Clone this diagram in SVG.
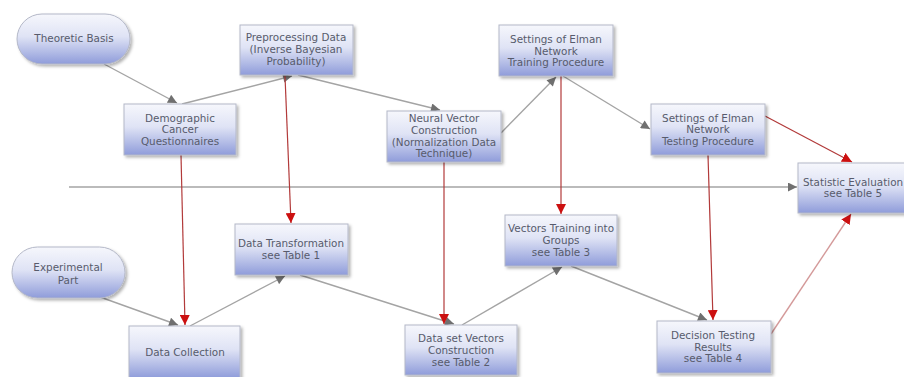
<svg xmlns="http://www.w3.org/2000/svg" width="904" height="377" viewBox="0 0 904 377">
<style>
.box{fill:url(#g);stroke:#b4b8c8;stroke-width:1;filter:url(#sh)}
.t{font-family:"DejaVu Sans",Verdana,sans-serif;font-size:10.4px;fill:#575b6c;text-anchor:middle}
.gl{stroke:#a4a4a4;stroke-width:1.4;fill:none;marker-end:url(#ag)}
.rl{stroke:#b23a3a;stroke-width:1.2;fill:none;marker-end:url(#ar)}
.pl{stroke:#d49a9a;stroke-width:1.4;fill:none;marker-end:url(#ar)}
</style>
<defs>
<linearGradient id="g" x1="0" y1="0" x2="0" y2="1">
<stop offset="0" stop-color="#f6f7fc"/>
<stop offset="0.45" stop-color="#dfe3f5"/>
<stop offset="1" stop-color="#8f9cda"/>
</linearGradient>
<filter id="sh" x="-10%" y="-10%" width="130%" height="140%">
<feDropShadow dx="2" dy="2" stdDeviation="1.5" flood-color="#000" flood-opacity="0.3"/>
</filter>
<marker id="ag" viewBox="0 0 10 10" refX="10" refY="5" markerWidth="10" markerHeight="9" markerUnits="userSpaceOnUse" orient="auto">
<path d="M0,0 L10,5 L0,10 z" fill="#707070"/>
</marker>
<marker id="ar" viewBox="0 0 10 10" refX="10" refY="5" markerWidth="10" markerHeight="10" markerUnits="userSpaceOnUse" orient="auto">
<path d="M0,0 L10,5 L0,10 z" fill="#cc1010"/>
</marker>
</defs>
<rect width="904" height="377" fill="#ffffff"/>
<g id="connectors">
<line class="gl" x1="69" y1="187" x2="797" y2="187"/>
<line class="gl" x1="104" y1="64" x2="177" y2="103"/>
<line class="gl" x1="182" y1="104" x2="292" y2="76"/>
<line class="gl" x1="298" y1="75" x2="440" y2="110"/>
<line class="gl" x1="501" y1="133" x2="556" y2="77"/>
<line class="gl" x1="563" y1="76" x2="650" y2="129"/>
<line class="rl" x1="765" y1="116" x2="852" y2="162"/>
<line class="rl" x1="181" y1="155" x2="185" y2="325"/>
<line class="rl" x1="285" y1="76" x2="291" y2="223"/>
<line class="gl" x1="100" y1="297" x2="178" y2="325"/>
<line class="gl" x1="190" y1="326" x2="285" y2="276"/>
<line class="gl" x1="300" y1="275" x2="454" y2="324"/>
<line class="rl" x1="444" y1="162" x2="444" y2="324"/>
<line class="gl" x1="462" y1="325" x2="562" y2="267"/>
<line class="rl" x1="561" y1="76" x2="561" y2="214"/>
<line class="gl" x1="571" y1="266" x2="707" y2="320"/>
<line class="rl" x1="708" y1="155" x2="713" y2="320"/>
<line class="pl" x1="771" y1="334" x2="851" y2="214"/>
</g>
<g id="theoretic">
<rect class="box" x="17" y="14" width="113" height="50" rx="25"/>
<text class="t" x="74" y="42">Theoretic Basis</text>
</g>
<g id="preprocessing">
<rect class="box" x="240" y="25" width="113" height="50"/>
<text class="t" x="296" y="41">Preprocessing Data</text>
<text class="t" x="296" y="53">(Inverse Bayesian</text>
<text class="t" x="296" y="65">Probability)</text>
</g>
<g id="demographic">
<rect class="box" x="124" y="104" width="112" height="51"/>
<text class="t" x="180" y="122">Demographic</text>
<text class="t" x="180" y="133">Cancer</text>
<text class="t" x="180" y="145">Questionnaires</text>
</g>
<g id="neural">
<rect class="box" x="387" y="111" width="114" height="51"/>
<text class="t" x="444" y="122">Neural Vector</text>
<text class="t" x="444" y="134">Construction</text>
<text class="t" x="444" y="146">(Normalization Data</text>
<text class="t" x="444" y="157">Technique)</text>
</g>
<g id="training">
<rect class="box" x="499" y="25" width="114" height="51"/>
<text class="t" x="556" y="43">Settings of Elman</text>
<text class="t" x="556" y="55">Network</text>
<text class="t" x="556" y="66">Training Procedure</text>
</g>
<g id="testing">
<rect class="box" x="651" y="104" width="114" height="51"/>
<text class="t" x="708" y="122">Settings of Elman</text>
<text class="t" x="708" y="133">Network</text>
<text class="t" x="708" y="145">Testing Procedure</text>
</g>
<g id="statistic">
<rect class="box" x="798" y="163" width="108" height="50"/>
<text class="t" x="853" y="186">Statistic Evaluation</text>
<text class="t" x="853" y="197">see Table 5</text>
</g>
<g id="transformation">
<rect class="box" x="235" y="224" width="113" height="51"/>
<text class="t" x="291" y="247">Data Transformation</text>
<text class="t" x="291" y="259">see Table 1</text>
</g>
<g id="experimental">
<rect class="box" x="12" y="247" width="113" height="51" rx="25.5"/>
<text class="t" x="68" y="271">Experimental</text>
<text class="t" x="68" y="284">Part</text>
</g>
<g id="collection">
<rect class="box" x="129" y="326" width="111" height="52"/>
<text class="t" x="185" y="356">Data Collection</text>
</g>
<g id="vectors-training">
<rect class="box" x="505" y="215" width="112" height="51"/>
<text class="t" x="561" y="232">Vectors Training into</text>
<text class="t" x="561" y="244">Groups</text>
<text class="t" x="561" y="256">see Table 3</text>
</g>
<g id="dataset">
<rect class="box" x="405" y="325" width="112" height="50"/>
<text class="t" x="461" y="342">Data set Vectors</text>
<text class="t" x="461" y="354">Construction</text>
<text class="t" x="461" y="366">see Table 2</text>
</g>
<g id="decision">
<rect class="box" x="657" y="321" width="114" height="52"/>
<text class="t" x="713" y="339">Decision Testing</text>
<text class="t" x="713" y="351">Results</text>
<text class="t" x="713" y="362">see Table 4</text>
</g>
</svg>
